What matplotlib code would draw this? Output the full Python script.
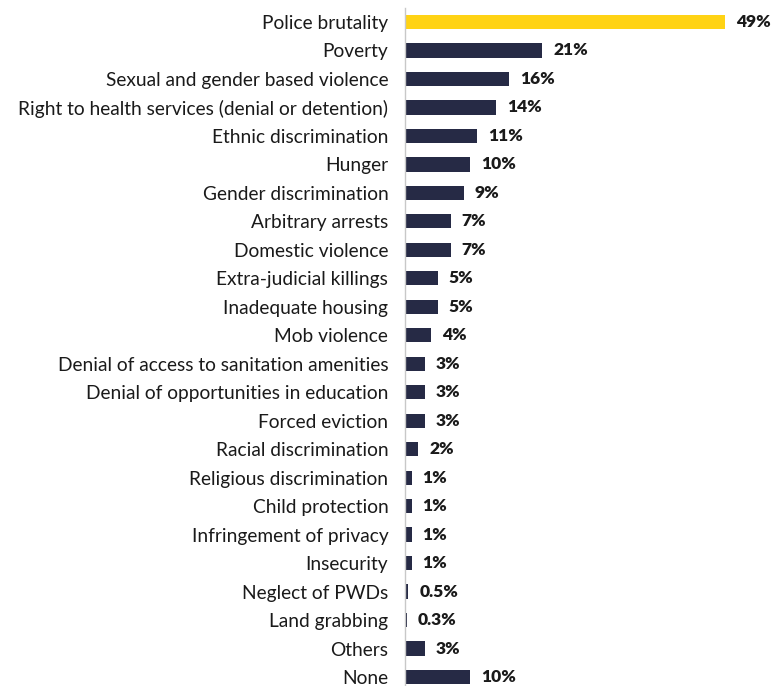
import matplotlib.pyplot as plt
import numpy as np

# share of respondents per human rights issue (%)
issues = [
    "Police brutality", "Poverty", "Sexual and gender based violence",
    "Right to health services (denial or detention)", "Ethnic discrimination",
    "Hunger", "Gender discrimination", "Arbitrary arrests", "Domestic violence",
    "Extra-judicial killings", "Inadequate housing", "Mob violence",
    "Denial of access to sanitation amenities",
    "Denial of opportunities in education", "Forced eviction",
    "Racial discrimination", "Religious discrimination", "Child protection",
    "Infringement of privacy", "Insecurity", "Neglect of PWDs",
    "Land grabbing", "Others", "None",
]
shares = [49, 21, 16, 14, 11, 10, 9, 7, 7, 5, 5, 4, 3, 3, 3, 2, 1, 1, 1, 1,
          0.5, 0.3, 3, 10]
value_labels = ["49%", "21%", "16%", "14%", "11%", "10%", "9%", "7%", "7%",
                "5%", "5%", "4%", "3%", "3%", "3%", "2%", "1%", "1%", "1%",
                "1%", "0.5%", "0.3%", "3%", "10%"]

navy = "#262a45"
yellow = "#ffd314"
colors = [yellow] + [navy] * (len(issues) - 1)

fig = plt.figure(figsize=(7.74, 6.86), dpi=100)
ax = fig.add_axes([405 / 774, 0.0, 1 - 405 / 774, 1 - 8 / 686])

y = np.arange(len(issues))
ax.barh(y, shares, height=0.5, color=colors)

for yi, v, lab in zip(y, shares, value_labels):
    ax.text(v + 1.7, yi, lab, va="center", ha="left", fontsize=12.5,
            fontweight="heavy", color="#1a1a1a", family="Lato")

ax.set_yticks(y)
ax.set_yticklabels(issues, fontsize=13.8, color="#1a1a1a", family="Lato")
ax.tick_params(axis="y", length=0, pad=12)
ax.set_xticks([])
ax.set_xlim(0, 49 * 369 / 320)
ax.set_ylim(23 + 9 / 28.48, -14 / 28.48)

for s in ["top", "right", "bottom"]:
    ax.spines[s].set_visible(False)
ax.spines["left"].set_color("#c8c8c8")
ax.spines["left"].set_linewidth(1)

fig.savefig("out.png", dpi=100)
